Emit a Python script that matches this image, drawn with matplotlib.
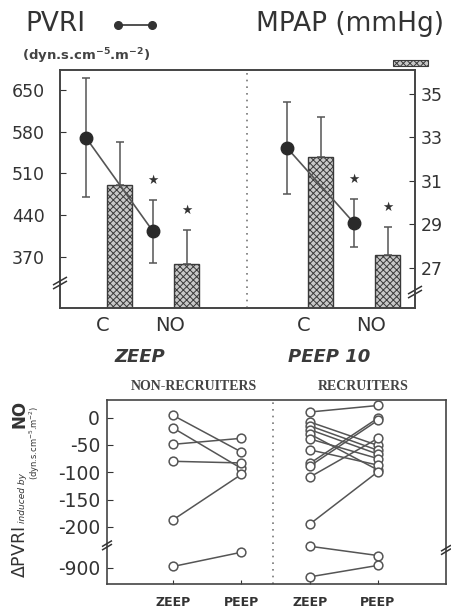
import numpy as np
import matplotlib.pyplot as plt
from matplotlib.patches import Rectangle
from matplotlib.lines import Line2D

plt.rcParams['font.family'] = ['DejaVu Sans']
plt.rcParams['hatch.linewidth'] = 0.7
plt.rcParams['hatch.color'] = '#4a4a4a'

INK = '#333333'
GREY = '#555555'

W, H = 451, 613

# upper panel: group means and SD, control (C) then inhaled NO
phase_labels = ['C', 'NO', 'C', 'NO']
condition_labels = ['ZEEP', 'PEEP 10']
pvri_mean = [570, 413, 553, 427]
pvri_sd = [100, 53, 77, 41]
mpap_mean = [30.8, 27.2, 32.1, 27.6]
mpap_sd = [2.0, 1.55, 1.85, 1.3]
significant = [False, True, False, True]

pvri_ticks = [370, 440, 510, 580, 650]
mpap_ticks = [27, 29, 31, 33, 35]

# lower panel: individual change in PVRI induced by NO
nonrec_zeep = [4, -19, -49, -80, -187, -898]
nonrec_peep = [-63, -93, -38, -83, -104, -872]
rec_zeep = [10, -8, -15, -22, -30, -39, -59, -84, -89, -109, -195, -861, -917]
rec_peep = [22, -51, -60, -67, -96, -75, -87, -1, -5, -38, -99, -878, -896]

dpvri_ticks = [0, -50, -100, -150, -200, -900]
group_labels = ['NON-RECRUITERS', 'RECRUITERS']
setting_labels = ['ZEEP', 'PEEP', 'ZEEP', 'PEEP']


def px(x, y):
    """pixel position (from top-left) -> figure fraction"""
    return x / W, 1 - y / H


def axis_break(ax, side, yfrac, w=7, h=4, gap=4):
    bb = ax.get_position()
    bw, bh = bb.width * W, bb.height * H
    x0 = 0 if side == 'left' else 1
    dx, dy, g = w / bw, h / bh, gap / bh
    for off in (-g / 2, g / 2):
        ax.plot([x0 - dx, x0 + dx], [yfrac - dy + off, yfrac + dy + off],
                transform=ax.transAxes, color=INK, lw=1.1, clip_on=False,
                solid_capstyle='butt', zorder=10)


def style_spines(ax):
    for s in ax.spines.values():
        s.set_color('#444444')
        s.set_linewidth(1.2)


fig = plt.figure(figsize=(W / 100, H / 100), dpi=100)

# ---------------- upper panel ----------------
ax = fig.add_axes([60 / W, 1 - 308 / H, 355 / W, 238 / H])
ax_r = ax.twinx()
ax.set_zorder(ax_r.get_zorder() + 1)
ax.patch.set_visible(False)

circle_x = np.array([0, 2, 6, 8])
bar_x = circle_x + 1

ax_r.bar(bar_x, mpap_mean, width=0.72, facecolor='#c8c8c8', edgecolor='#3a3a3a',
         hatch='xxxxx', linewidth=1.0)
ax_r.errorbar(bar_x, mpap_mean, yerr=[np.zeros(4), mpap_sd], fmt='none',
              ecolor=GREY, elinewidth=1.1, capsize=3, capthick=1.1)

ax.errorbar(circle_x, pvri_mean, yerr=pvri_sd, fmt='none', ecolor=GREY,
            elinewidth=1.1, capsize=3, capthick=1.1)
for k in (0, 2):
    ax.plot(circle_x[k:k + 2], pvri_mean[k:k + 2], '-', color=GREY, lw=1.2)
ax.plot(circle_x, pvri_mean, 'o', ls='none', ms=9, color='#2a2a2a', zorder=5)

for i, sig in enumerate(significant):
    if sig:
        ax.annotate('★', (circle_x[i], pvri_mean[i] + pvri_sd[i]), xytext=(0, 14),
                    textcoords='offset points', ha='center', va='center',
                    fontsize=9, color=INK)
        ax_r.annotate('★', (bar_x[i], mpap_mean[i] + mpap_sd[i]), xytext=(0, 14),
                      textcoords='offset points', ha='center', va='center',
                      fontsize=9, color=INK)

ax.set_xlim(-0.776, 9.82)
ax.set_ylim(284.5, 683.5)
ax_r.set_ylim(25.16, 36.1)
ax.axvline(4.81, color='#777777', ls=(0, (1, 3)), lw=1.2)

ax.set_yticks(pvri_ticks)
ax_r.set_yticks(mpap_ticks)
ax.set_xticks(circle_x + 0.5)
ax.set_xticklabels(phase_labels)
ax.tick_params(axis='y', direction='in', length=4, labelsize=12.5, pad=11,
               colors=INK)
ax.tick_params(axis='x', length=0, labelsize=14, pad=6, colors=INK)
ax_r.tick_params(axis='y', direction='in', length=4, labelsize=12.5, pad=4,
                 colors=INK)
style_spines(ax)
style_spines(ax_r)

axis_break(ax, 'left', 0.105)
axis_break(ax_r, 'right', 0.067)

for cx, name in zip((140, 329), condition_labels):
    fig.text(*px(cx, 357), name, ha='center', va='center', fontsize=13,
             fontweight='bold', fontstyle='italic', color='#3a3a3a')

fig.text(*px(25, 24), 'PVRI', ha='left', va='center', fontsize=19, color=INK)
fig.add_artist(Line2D([118 / W, 152 / W], [1 - 25 / H] * 2, color=INK, lw=1.2,
                      marker='o', ms=5.5, transform=fig.transFigure))
fig.text(*px(22, 56), r'(dyn.s.cm$^{\mathbf{-5}}$.m$^{\mathbf{-2}}$)', ha='left',
         va='center', fontsize=9.5, fontweight='bold', color='#444444')
fig.text(*px(444, 24), 'MPAP (mmHg)', ha='right', va='center', fontsize=19,
         color=INK)
fig.add_artist(Rectangle(px(393, 66), 35 / W, 6 / H, transform=fig.transFigure,
                         facecolor='#c8c8c8', edgecolor='#3a3a3a',
                         hatch='xxxxx', lw=0.8))

# ---------------- lower panel ----------------
# broken y scale: values below -855 are shifted up next to -228
_xp = [-5000, -855, -228, 5000]
_fp = [-5000 + 625.8, -229.2, -228, 5000]


def fwd(v):
    return np.interp(v, _xp, _fp)


def inv(y):
    return np.interp(y, _fp, _xp)


ax2 = fig.add_axes([107 / W, 1 - 584 / H, 339 / W, 184 / H])
ax2.set_yscale('function', functions=(fwd, inv))

for x0, zeep, peep in ((0, nonrec_zeep, nonrec_peep), (2, rec_zeep, rec_peep)):
    for z, p in zip(zeep, peep):
        ax2.plot([x0, x0 + 1], [z, p], '-', color=GREY, lw=1.1, zorder=2)
    ax2.plot([x0] * len(zeep), zeep, 'o', ls='none', ms=6.3, mfc='white',
             mec=GREY, mew=1.1, zorder=3, clip_on=False)
    ax2.plot([x0 + 1] * len(peep), peep, 'o', ls='none', ms=6.3, mfc='white',
             mec=GREY, mew=1.1, zorder=3, clip_on=False)

ax2.set_xlim(-0.966, 3.996)
ax2.set_ylim(-930, 32)
ax2.axvline(1.464, color='#777777', ls=(0, (1, 3)), lw=1.2)
ax2.set_yticks(dpvri_ticks)
ax2.set_yticklabels([str(t) for t in dpvri_ticks])
ax2.yaxis.set_minor_locator(plt.NullLocator())
ax2.set_xticks([0, 1, 2, 3])
ax2.set_xticklabels(setting_labels)
ax2.tick_params(axis='y', direction='in', length=4, labelsize=13.5, pad=5,
                colors=INK)
ax2.tick_params(axis='x', direction='in', length=3, labelsize=9, pad=9,
                colors=INK)
for lab in ax2.get_xticklabels():
    lab.set_fontweight('bold')
style_spines(ax2)

axis_break(ax2, 'left', 0.21, w=5, h=3, gap=3.5)
axis_break(ax2, 'right', 0.185, w=5, h=3, gap=3.5)

for gx, name in zip((0.31, 2.78), group_labels):
    ax2.text(gx, 1.076, name, transform=ax2.get_xaxis_transform(), ha='center',
             va='center', fontsize=10, fontweight='bold', color='#444444',
             family='Liberation Serif')

# y label, rotated, built from pieces
lab_kw = dict(rotation=90, rotation_mode='anchor', ha='center', va='baseline',
              color=INK)
fig.text(*px(25, 552), r'$\Delta$PVRI', fontsize=12.5, **lab_kw)
fig.text(*px(25, 498), 'induced by', fontsize=6.5, fontstyle='italic', **lab_kw)
fig.text(*px(25, 414), 'NO', fontsize=12, fontweight='bold', **lab_kw)
fig.text(*px(38, 443), r'(dyn.s.cm$^{-5}$.m$^{-2}$)', fontsize=6, **lab_kw)

fig.savefig('out.png', dpi=100, facecolor='white')
